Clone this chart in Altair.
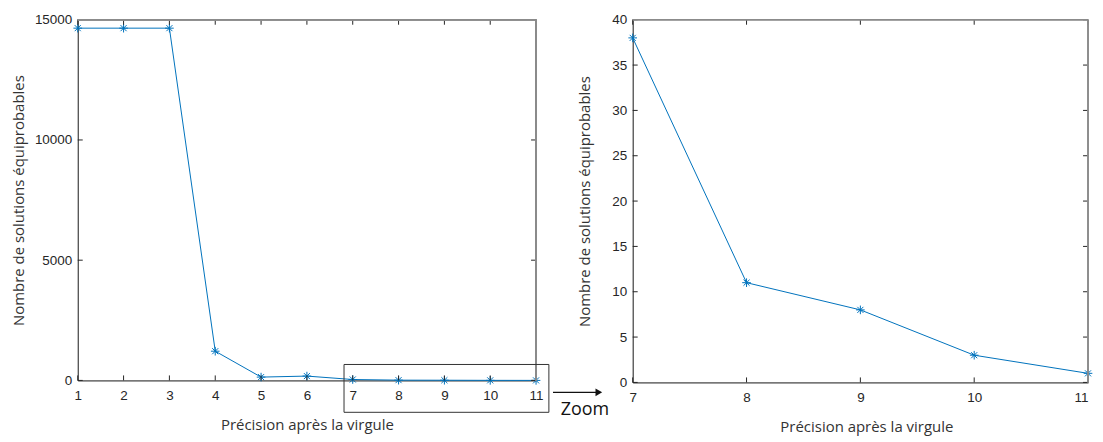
import altair as alt
import pandas as pd

# ---- data ----
precision_all = [1, 2, 3, 4, 5, 6, 7, 8, 9, 10, 11]
solutions_all = [14650, 14650, 14650, 1215, 138, 180, 38, 11, 8, 3, 1]

precision_zoom = [7, 8, 9, 10, 11]
solutions_zoom = [38, 11, 8, 3, 1]

left_xticks = [1, 2, 3, 4, 5, 6, 7, 8, 9, 10, 11]
left_yticks = [0, 5000, 10000, 15000]
right_xticks = [7, 8, 9, 10, 11]
right_yticks = [0, 5, 10, 15, 20, 25, 30, 35, 40]

x_title = "Précision après la virgule"
y_title = "Nombre de solutions équiprobables"

LINE = "#0072BD"
AX = "#262626"
FRAME = "#8c8c8c"
TICK_FONT = "Liberation Sans"
TITLE_FONT = "Open Sans"

STAR = "M-1,0L1,0M0,-1L0,1M-0.7,-0.7L0.7,0.7M-0.7,0.7L0.7,-0.7"

W1, H1 = 460, 362
W2, H2 = 457, 364


def panel(xs, ys, xdom, ydom, xticks, yticks, W, H, ytitle_x, xtitle_x, last_right=False):
    df = pd.DataFrame({"x": xs, "y": ys})
    xs_ = alt.Scale(domain=xdom, nice=False, zero=False)
    ys_ = alt.Scale(domain=ydom, nice=False, zero=False)
    xaxis_kw = dict(values=xticks, format="d", tickSize=0, labelPadding=8,
                    labelFont=TICK_FONT, labelFontSize=13.5, labelColor=AX,
                    titleFont=TITLE_FONT, titleFontSize=15, titleFontWeight="normal",
                    titleColor="#333333", titlePadding=16, titleX=xtitle_x,
                    domainColor=AX, grid=False, labelFlush=False)
    if last_right:
        xaxis_kw["labelAlign"] = {"condition": {"test": "datum.value >= %d" % xticks[-1],
                                                "value": "right"},
                                  "value": "center"}
    xenc = alt.X("x:Q", scale=xs_, title=x_title, axis=alt.Axis(**xaxis_kw))
    yenc = alt.Y("y:Q", scale=ys_, title=y_title,
                 axis=alt.Axis(values=yticks, format="d", tickSize=0, labelPadding=6,
                               labelFont=TICK_FONT, labelFontSize=13.5, labelColor=AX,
                               titleFont=TITLE_FONT, titleFontSize=15, titleFontWeight="normal",
                               titleColor="#333333", titleX=ytitle_x,
                               domainColor=AX, grid=False, labelFlush=False))
    line = alt.Chart(df).mark_line(color=LINE, strokeWidth=1).encode(x=xenc, y=yenc)
    pts = alt.Chart(df).mark_point(shape=STAR, size=75, color=LINE, filled=False,
                                   strokeWidth=1, opacity=1).encode(x="x:Q", y="y:Q")

    tx = pd.DataFrame({"t": xticks})
    ty = pd.DataFrame({"t": yticks})
    tb = alt.Chart(tx).mark_rule(color=AX, strokeWidth=1).encode(
        x="t:Q", y=alt.value(H), y2=alt.value(H - 5))
    tt = alt.Chart(tx).mark_rule(color=AX, strokeWidth=1).encode(
        x="t:Q", y=alt.value(0), y2=alt.value(5))
    tl = alt.Chart(ty).mark_rule(color=AX, strokeWidth=1).encode(
        y="t:Q", x=alt.value(0), x2=alt.value(5))
    tr = alt.Chart(ty).mark_rule(color=AX, strokeWidth=1).encode(
        y="t:Q", x=alt.value(W), x2=alt.value(W - 5))
    top = alt.Chart(tx).mark_rule(color=FRAME, strokeWidth=1).encode(
        x=alt.value(0), x2=alt.value(W), y=alt.value(0))
    right = alt.Chart(tx).mark_rule(color=FRAME, strokeWidth=1).encode(
        x=alt.value(W), y=alt.value(0), y2=alt.value(H))
    return [line, pts, tb, tt, tl, tr, top, right]


left_layers = panel(precision_all, solutions_all, [1, 11], [0, 15000],
                    left_xticks, left_yticks, W1, H1, -51, W1 / 2)
right_layers = panel(precision_zoom, solutions_zoom, [7, 11], [0, 40],
                     right_xticks, right_yticks, W2, H2, -40, W2 / 2 + 6, last_right=True)

# zoom annotation (box around 7..11, arrow and label)
box_df = pd.DataFrame({"x0": [6.81], "x1": [11.28], "y0": [663], "y1": [-1326]})
box = alt.Chart(box_df).mark_rect(fill=None, stroke="#333333", strokeWidth=1, clip=False).encode(
    x="x0:Q", x2="x1:Q", y="y0:Q", y2="y1:Q")
arrow_df = pd.DataFrame({"label": ["Zoom"]})
arrow = alt.Chart(arrow_df).mark_rule(color="#111111", strokeWidth=1.2).encode(
    x=alt.value(W1 + 17), x2=alt.value(W1 + 62), y=alt.value(H1 + 12))
head = alt.Chart(arrow_df).mark_point(shape="triangle-right", filled=True, color="#111111",
                                      size=60, opacity=1).encode(
    x=alt.value(W1 + 63), y=alt.value(H1 + 12))
zoom_txt = alt.Chart(arrow_df).mark_text(font=TITLE_FONT, fontSize=18, color="#111111",
                                         align="center", baseline="middle").encode(
    text="label:N", x=alt.value(W1 + 49), y=alt.value(H1 + 30))

left = alt.layer(*left_layers, box, arrow, head, zoom_txt).properties(width=W1, height=H1)
right = alt.layer(*right_layers).properties(width=W2, height=H2)

chart = alt.hconcat(left, right, spacing=97, bounds="flush").configure_view(
    stroke=None).configure(background="white",
                           padding={"left": 3, "top": 3, "right": 0, "bottom": 0})

chart.save("out.html", embed_options={"renderer": "svg", "actions": False})
